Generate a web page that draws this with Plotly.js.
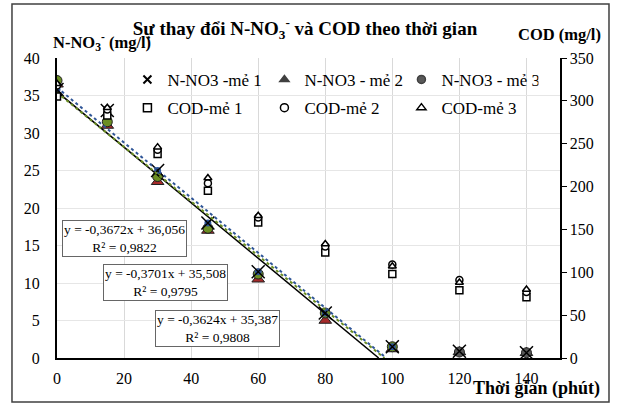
<!DOCTYPE html>
<html><head><meta charset="utf-8">
<script src="https://cdn.plot.ly/plotly-3.0.1.min.js"></script>
<style>html,body{margin:0;padding:0;background:#fff}#chart{width:618px;height:403px}</style>
</head><body><div id="chart"></div>
<script>
var time = [0, 15, 30, 45, 60, 80, 100, 120, 140];
var no3_batch1 = [35.8, 33.0, 25.0, 18.0, 11.5, 6.0, 1.5, 0.9, 0.7];
var no3_batch2 = [36.5, 31.0, 23.5, 17.0, 10.5, 5.0, 1.2, 0.8, 0.7];
var no3_batch3 = [37.0, 31.5, 24.2, 17.3, 11.2, 6.0, 1.5, 0.8, 0.7];
var cod_batch1 = [305, 283, 238, 195, 158, 123, 98, 79, 71];
var cod_batch2 = [318, 290, 243, 204, 164, 130, 109, 91, 77];
var cod_batch3 = [320, 292, 246, 210, 166, 133, 107, 88, 80];
var trendSlopes = [-0.3672, -0.3701, -0.3624];
var trendIntercepts = [36.056, 35.508, 35.387];
var trendR2 = ['0,9822', '0,9795', '0,9808'];
var seriesNames = ['N-NO3 -mẻ 1', 'N-NO3 - mẻ 2', 'N-NO3 - mẻ 3', 'COD-mẻ 1', 'COD-mẻ 2', 'COD-mẻ 3'];

var serif = "'Liberation Serif', 'Times New Roman', serif";
function pc(c1, c2){ return time.map(function(t,i){ return i < 7 ? c1 : c2; }); }

var traces = [];
var codSets = [[cod_batch1,'square'],[cod_batch2,'circle'],[cod_batch3,'triangle-up']];
codSets.forEach(function(s){
  traces.push({x: time, y: s[0], yaxis: 'y2', mode: 'markers', showlegend: false,
    marker: {symbol: s[1], size: 7, color: '#ffffff', line: {color: '#000000', width: 1.5}}});
});
traces.push({x: time, y: no3_batch2, mode: 'markers', showlegend: false,
  marker: {symbol: 'triangle-up', size: 11, color: pc('#a52a2a', '#404040'), line: {color: '#202020', width: 1}}});
traces.push({x: time, y: no3_batch3, mode: 'markers', showlegend: false,
  marker: {symbol: 'circle', size: 10, color: pc('#6b8e23', '#595959'), line: {color: '#202020', width: 1}}});
traces.push({x: time, y: no3_batch1, mode: 'markers', showlegend: false,
  marker: {symbol: 'circle', size: 7, color: pc('#2f5597', '#595959'), line: {width: 0}}});
traces.push({x: time, y: no3_batch1, mode: 'markers', showlegend: false,
  marker: {symbol: 'x-thin', size: 13, line: {color: '#000000', width: 1.5}}});

var trendStyles = [{color: '#2f5597', dash: 'dot', width: 2}, {color: '#000000', dash: 'solid', width: 1.5}, {color: '#6b8e23', dash: 'dot', width: 2}];
[1, 2, 0].forEach(function(k){
  var x0 = 0, x1 = -trendIntercepts[k] / trendSlopes[k];
  traces.push({x: [x0, x1], y: [trendIntercepts[k] + trendSlopes[k]*x0, trendIntercepts[k] + trendSlopes[k]*x1],
    mode: 'lines', showlegend: false, hoverinfo: 'skip', line: trendStyles[k]});
});

var legendSyms = [['x-thin', '#000000', '#000000'], ['triangle-up', '#404040', '#404040'], ['circle', '#595959', '#404040'],
                  ['square', '#ffffff', '#000000'], ['circle', '#ffffff', '#000000'], ['triangle-up', '#ffffff', '#000000']];
seriesNames.forEach(function(n, i){
  var s = legendSyms[i];
  traces.push({x: [null], y: [null], mode: 'markers', name: n, showlegend: true, legend: i < 3 ? 'legend' : 'legend2',
    marker: {symbol: s[0], size: 8, color: s[1], line: {color: s[2], width: s[0]==='x-thin' ? 2 : 1.5}}});
});

var annPos = [[20, 16], [32.5, 10.1], [47.8, 4.0]];
var annotations = trendSlopes.map(function(a, k){
  var txt = 'y = ' + a.toFixed(4).replace('.', ',') + 'x + ' + trendIntercepts[k].toFixed(3).replace('.', ',') + '<br>R² = ' + trendR2[k];
  return {x: annPos[k][0], y: annPos[k][1], xref: 'x', yref: 'y', text: txt, showarrow: false,
    font: {family: serif, size: 13.5, color: '#000'}, bgcolor: '#ffffff', bordercolor: '#666666', borderwidth: 1, borderpad: 1};
});
annotations.push({xref: 'paper', yref: 'paper', x: -0.012, y: 1.052, xanchor: 'left', yanchor: 'middle', showarrow: false,
  text: '<b>N-NO<sub>3</sub><sup>-</sup> (mg/l)</b>', font: {family: serif, size: 16.5, color: '#000'}});
annotations.push({xref: 'paper', yref: 'paper', x: 1.086, y: 1.077, xanchor: 'right', yanchor: 'middle', showarrow: false,
  text: '<b>COD (mg/l)</b>', font: {family: serif, size: 16.5, color: '#000'}});
annotations.push({xref: 'paper', yref: 'paper', x: 1.083, y: -0.1, xanchor: 'right', yanchor: 'middle', showarrow: false,
  text: '<b>Thời gian (phút)</b>', font: {family: serif, size: 18, color: '#000'}});

var legendBase = {orientation: 'h', x: 0.14, xanchor: 'left', yanchor: 'middle', entrywidth: 92, bgcolor: 'rgba(0,0,0,0)',
  font: {family: serif, size: 17, color: '#000'}, itemwidth: 30};

var layout = {
  width: 618, height: 403,
  margin: {l: 57, r: 58, t: 58, b: 45},
  paper_bgcolor: '#ffffff', plot_bgcolor: '#ffffff',
  font: {family: serif, size: 16, color: '#000'},
  title: {text: '<b>Sự thay đổi N-NO<sub>3</sub><sup>-</sup> và COD theo thời gian</b>', x: 0.493, xref: 'paper', y: 0.93, yanchor: 'middle',
    font: {family: serif, size: 19, color: '#000'}},
  xaxis: {range: [0, 150], tickvals: [0, 20, 40, 60, 80, 100, 120, 140], showgrid: true, gridcolor: '#d9d9d9', gridwidth: 1,
    showline: true, linecolor: '#000', linewidth: 2, ticks: '', zeroline: false, ticklabelstandoff: 5,
    tickfont: {family: serif, size: 16}},
  yaxis: {range: [0, 40], dtick: 5, showgrid: true, gridcolor: '#e6e6e6', gridwidth: 1,
    showline: true, linecolor: '#000', linewidth: 2, ticks: '', zeroline: false, ticklabelstandoff: 12,
    tickfont: {family: serif, size: 16}},
  yaxis2: {overlaying: 'y', side: 'right', range: [0, 350], dtick: 50, showgrid: false, showline: true, linecolor: '#000', linewidth: 1.5,
    ticks: 'outside', ticklen: 5, tickcolor: '#000', zeroline: false, tickfont: {family: serif, size: 16}},
  legend: Object.assign({}, legendBase, {y: 0.927}),
  legend2: Object.assign({}, legendBase, {y: 0.833}),
  annotations: annotations,
  shapes: [{type: 'rect', xref: 'paper', yref: 'paper', x0: -0.0895, x1: 1.0974, y0: -0.1467, y1: 1.18,
    line: {color: '#404040', width: 1.5}, fillcolor: 'rgba(0,0,0,0)'}],
  showlegend: true
};
Plotly.newPlot('chart', traces, layout, {displayModeBar: false, staticPlot: true});
</script></body></html>
